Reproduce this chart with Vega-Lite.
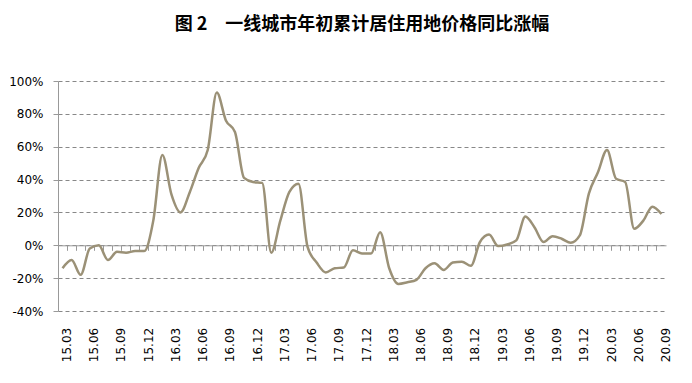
{
  "$schema": "https://vega.github.io/schema/vega-lite/v6.json",
  "width": 608,
  "height": 230,
  "autosize": "none",
  "padding": {"left": 58, "top": 81, "right": 26, "bottom": 72},
  "background": "white",
  "title": {
    "text": "图 2　一线城市年初累计居住用地价格同比涨幅",
    "font": "Noto Sans CJK SC",
    "fontSize": 18,
    "fontWeight": "bold",
    "color": "#000000",
    "anchor": "middle",
    "offset": 41
  },
  "config": {"view": {"stroke": null}},
  "data": {
    "values": [
      {"m": "15.03", "v": -14}, {"m": "15.04", "v": -9}, {"m": "15.05", "v": -18},
      {"m": "15.06", "v": -2}, {"m": "15.07", "v": 0}, {"m": "15.08", "v": -9},
      {"m": "15.09", "v": -4}, {"m": "15.10", "v": -4.5}, {"m": "15.11", "v": -3.5},
      {"m": "15.12", "v": -3.5}, {"m": "16.01", "v": 15}, {"m": "16.02", "v": 55},
      {"m": "16.03", "v": 31}, {"m": "16.04", "v": 20}, {"m": "16.05", "v": 32},
      {"m": "16.06", "v": 47}, {"m": "16.07", "v": 58}, {"m": "16.08", "v": 93},
      {"m": "16.09", "v": 76}, {"m": "16.10", "v": 69}, {"m": "16.11", "v": 41},
      {"m": "16.12", "v": 38.5}, {"m": "17.01", "v": 38}, {"m": "17.02", "v": -4.5},
      {"m": "17.03", "v": 15}, {"m": "17.04", "v": 32.5}, {"m": "17.05", "v": 37.5},
      {"m": "17.06", "v": -1}, {"m": "17.07", "v": -10.5}, {"m": "17.08", "v": -16.5},
      {"m": "17.09", "v": -14}, {"m": "17.10", "v": -13.5}, {"m": "17.11", "v": -3},
      {"m": "17.12", "v": -5}, {"m": "18.01", "v": -5}, {"m": "18.02", "v": 8},
      {"m": "18.03", "v": -14}, {"m": "18.04", "v": -23.5}, {"m": "18.05", "v": -22.5},
      {"m": "18.06", "v": -21}, {"m": "18.07", "v": -14}, {"m": "18.08", "v": -11},
      {"m": "18.09", "v": -15}, {"m": "18.10", "v": -10.5}, {"m": "18.11", "v": -10},
      {"m": "18.12", "v": -12.5}, {"m": "19.01", "v": 2}, {"m": "19.02", "v": 6.5},
      {"m": "19.03", "v": -0.5}, {"m": "19.04", "v": 0.5}, {"m": "19.05", "v": 3},
      {"m": "19.06", "v": 17.5}, {"m": "19.07", "v": 11}, {"m": "19.08", "v": 2},
      {"m": "19.09", "v": 5.5}, {"m": "19.10", "v": 4}, {"m": "19.11", "v": 1.5},
      {"m": "19.12", "v": 6}, {"m": "20.01", "v": 31.5}, {"m": "20.02", "v": 44.5},
      {"m": "20.03", "v": 58}, {"m": "20.04", "v": 40.5}, {"m": "20.05", "v": 38.5},
      {"m": "20.06", "v": 10}, {"m": "20.07", "v": 15}, {"m": "20.08", "v": 23.5},
      {"m": "20.09", "v": 19}
    ]
  },
  "mark": {"type": "line", "interpolate": "monotone", "color": "#9B9177", "strokeWidth": 2.5},
  "encoding": {
    "x": {
      "field": "m",
      "type": "ordinal",
      "sort": null,
      "title": null,
      "scale": {"type": "band", "paddingInner": 0, "paddingOuter": 0},
      "axis": {
        "orient": "bottom",
        "offset": -65.7,
        "bandPosition": 0,
        "domainColor": "#999999",
        "domainWidth": 1,
        "ticks": true,
        "tickColor": "#999999",
        "tickSize": 5,
        "tickWidth": 1,
        "labelAngle": -90,
        "labelAlign": "right",
        "labelBaseline": "middle",
        "labelOffset": 4.5,
        "labelPadding": 77,
        "labelFont": "DejaVu Sans",
        "labelFontSize": 12,
        "labelColor": "#000000",
        "labelOverlap": false,
        "labelExpr": "test(/\\.(03|06|09|12)$/, datum.value) ? datum.label : ''",
        "grid": false
      }
    },
    "y": {
      "field": "v",
      "type": "quantitative",
      "title": null,
      "scale": {"domain": [-40, 100], "nice": false, "zero": false},
      "axis": {
        "values": [-40, -20, 0, 20, 40, 60, 80, 100],
        "labelExpr": "datum.value + '%'",
        "labelFont": "DejaVu Sans",
        "labelFontSize": 12,
        "labelColor": "#000000",
        "labelPadding": 10,
        "domainColor": "#999999",
        "domainWidth": 1,
        "tickColor": "#999999",
        "tickSize": 5,
        "grid": true,
        "gridColor": "#888888",
        "gridDash": [4, 3],
        "gridWidth": 1
      }
    }
  }
}
